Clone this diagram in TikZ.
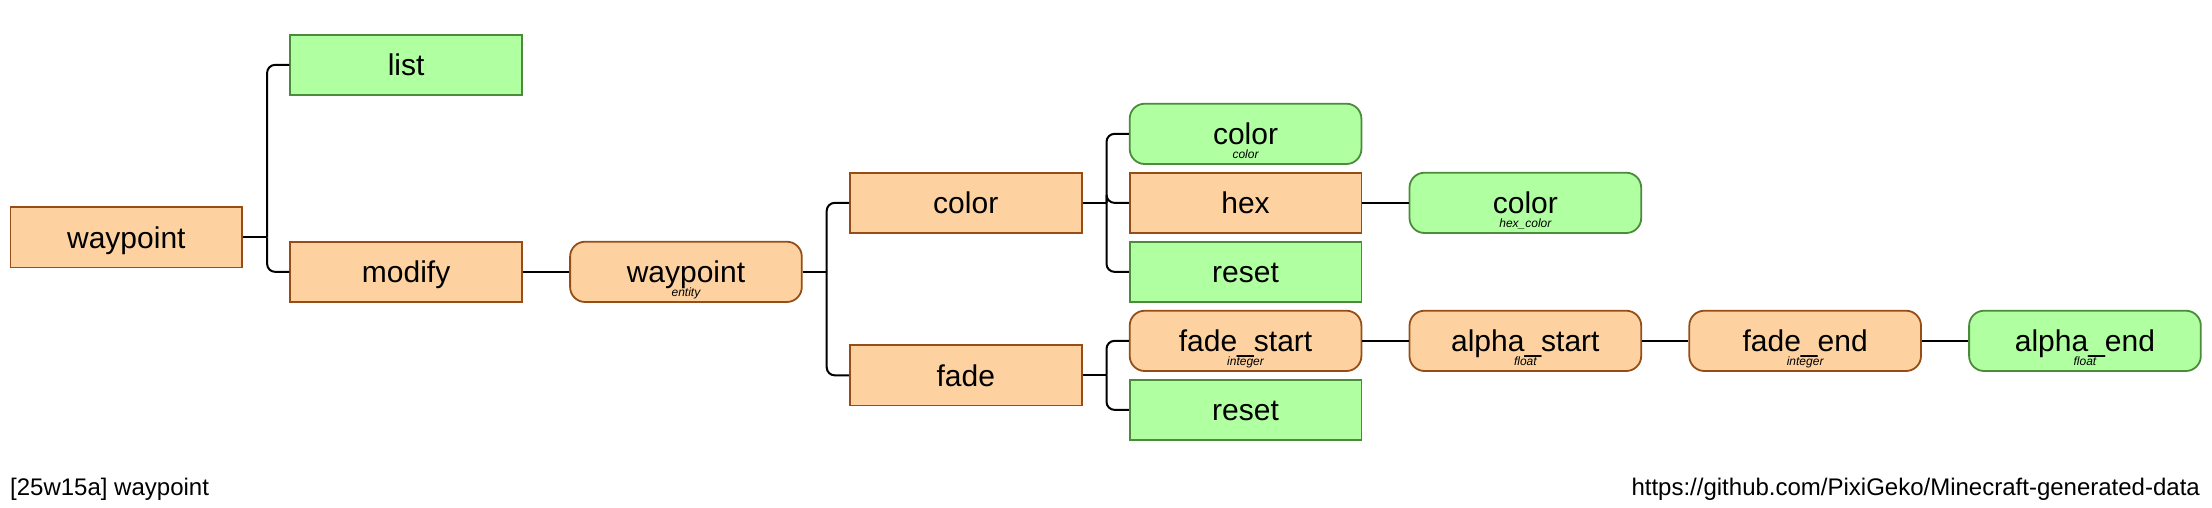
\documentclass[tikz,border=0pt]{standalone}
\usepackage{fontspec}
\setmainfont{Liberation Sans}
\definecolor{ofill}{RGB}{253,210,160}
\definecolor{odraw}{RGB}{150,78,22}
\definecolor{gfill}{RGB}{176,255,160}
\definecolor{gdraw}{RGB}{76,138,60}
\tikzset{
  box/.style={minimum width=231.7pt, minimum height=60.3pt, inner sep=0pt, line width=1.8pt,
    text height=21.5pt, text depth=0pt, font=\fontsize{30}{36}\selectfont},
  orect/.style={box, fill=ofill, draw=odraw},
  ornd/.style={orect, rounded corners=15pt},
  grect/.style={box, fill=gfill, draw=gdraw},
  grnd/.style={grect, rounded corners=15pt},
  subt/.style={anchor=base, yshift=6pt, inner sep=0pt, font=\fontsize{12}{14}\selectfont\itshape},
  conn/.style={line width=2pt, black, rounded corners=8pt},
  foot/.style={inner sep=0pt, font=\fontsize{24}{28}\selectfont}
}
\begin{document}
\begin{tikzpicture}[x=1pt,y=-1pt]
\useasboundingbox (0,0) rectangle (2212,508);
% columns: 126.35 + 279.8c ; rows: 64.85 + 69r
\node[orect] (root) at (126.35,237.35) {waypoint};
\node[grect] (list) at (406.15,64.85) {list};
\node[orect] (modify) at (406.15,271.85) {modify};
\node[ornd] (wpe) at (685.95,271.85) {waypoint};
\node[orect] (color) at (965.75,202.85) {color};
\node[orect] (fade) at (965.75,375.35) {fade};
\node[grnd] (colc) at (1245.55,133.85) {color};
\node[orect] (hex) at (1245.55,202.85) {hex};
\node[grect] (reset1) at (1245.55,271.85) {reset};
\node[ornd] (fstart) at (1245.55,340.85) {fade\_start};
\node[grect] (reset2) at (1245.55,409.85) {reset};
\node[grnd] (hexc) at (1525.35,202.85) {color};
\node[ornd] (astart) at (1525.35,340.85) {alpha\_start};
\node[ornd] (fend) at (1805.15,340.85) {fade\_end};
\node[grnd] (aend) at (2084.95,340.85) {alpha\_end};
% sub texts
\node[subt] (wpe-t) at (wpe.south) {entity};
\node[subt] (colc-t) at (colc.south) {color};
\node[subt] (fstart-t) at (fstart.south) {integer};
\node[subt] (hexc-t) at (hexc.south) {hex\_color};
\node[subt] (astart-t) at (astart.south) {float};
\node[subt] (fend-t) at (fend.south) {integer};
\node[subt] (aend-t) at (aend.south) {float};
% connectors
\draw[conn] (root.east) -- ++(24,0) coordinate (j0);
\draw[conn] (j0) |- (list.west);
\draw[conn] (j0) |- (modify.west);
\draw[conn] (modify.east) -- (wpe.west);
\draw[conn] (wpe.east) -- ++(24,0) coordinate (j2);
\draw[conn] (j2) |- (color.west);
\draw[conn] (j2) |- (fade.west);
\draw[conn] (color.east) -- ++(24,0) coordinate (j3);
\draw[conn] (j3) |- (colc.west);
\draw[conn] (j3) |- (hex.west);
\draw[conn] (j3) |- (reset1.west);
\draw[conn] (fade.east) -- ++(24,0) coordinate (j4);
\draw[conn] (j4) |- (fstart.west);
\draw[conn] (j4) |- (reset2.west);
\draw[conn] (hex.east) -- (hexc.west);
\draw[conn] (fstart.east) -- (astart.west);
\draw[conn] (astart.east) -- (fend.west);
\draw[conn] (fend.east) -- (aend.west);
% footer
\node[foot, anchor=base west] (foot1) at (10,495) {[25w15a] waypoint};
\node[foot, anchor=base east] (foot2) at (2200,495) {https://github.com/PixiGeko/Minecraft-generated-data};
\end{tikzpicture}
\end{document}
